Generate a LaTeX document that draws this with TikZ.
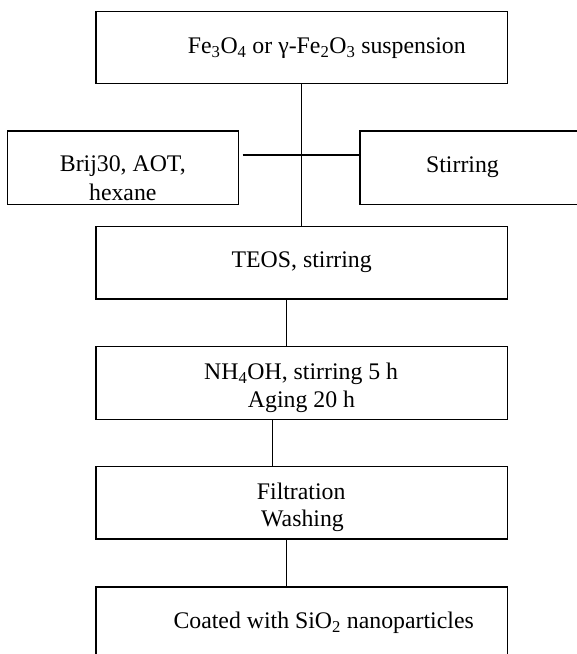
\documentclass[tikz,border=0pt]{standalone}
\usepackage{fontspec}
\setmainfont{Liberation Serif}
\begin{document}
\begin{tikzpicture}[x=1pt,y=-1pt,
  box/.style={draw=black, line width=1.4pt, inner sep=0pt, minimum height=72.5pt},
  wide/.style={box, minimum width=411.3pt},
  side/.style={box, minimum width=231pt, minimum height=73.3pt},
  txt/.style={inner sep=0pt, font=\fontsize{23.8}{28.6}\selectfont},
  conn/.style={draw=black, line width=1.4pt}]
\useasboundingbox (0,0) rectangle (577,654);
\clip (0,0) rectangle (577,654);
% boxes
\node[wide] (top) at (301.65,47.5) {};
\node[side] (left) at (122.8,167.65) {};
\node[side, minimum width=240pt] (right) at (480,167.65) {};
\node[wide] (teos) at (301.65,262.85) {};
\node[wide] (nh) at (301.65,383) {};
\node[wide] (filt) at (301.65,502.85) {};
\node[wide, minimum height=73pt] (coat) at (301.65,623.5) {};
% texts
\node[txt, anchor=base west] (ttop) at (187.7,53.3) {Fe\textsubscript{3}O\textsubscript{4} or γ-Fe\textsubscript{2}O\textsubscript{3} suspension};
\node[txt, anchor=base] (tbrijA) at (122.8,171.7) {Brij30, AOT,};
\node[txt, anchor=base] (tbrijB) at (122.8,200.7) {hexane};
\node[txt, anchor=base] (tstir) at (462.5,172.3) {Stirring};
\node[txt, anchor=base] (tteos) at (301.7,267.7) {TEOS, stirring};
\node[txt, anchor=base] (tnhA) at (301.2,379.3) {NH\textsubscript{4}OH, stirring 5 h};
\node[txt, anchor=base] (tnhB) at (301.5,407.7) {Aging 20 h};
\node[txt, anchor=base] (tfiltA) at (301.2,499.3) {Filtration};
\node[txt, anchor=base] (tfiltB) at (302.5,526.7) {Washing};
\node[txt, anchor=base west] (tcoat) at (173.3,628.3) {Coated with SiO\textsubscript{2} nanoparticles};
% connectors
\draw[conn] (top.south) -- (teos.north);
\coordinate (hl) at (242.7,155);
\draw[conn] (hl) -- (hl -| right.west);
\draw[conn] ([xshift=-14.9pt]teos.south) -- ([xshift=-14.9pt]nh.north);
\draw[conn] ([xshift=-29.3pt]nh.south) -- ([xshift=-29.3pt]filt.north);
\draw[conn] ([xshift=-14.9pt]filt.south) -- ([xshift=-14.9pt]coat.north);
\end{tikzpicture}
\end{document}
